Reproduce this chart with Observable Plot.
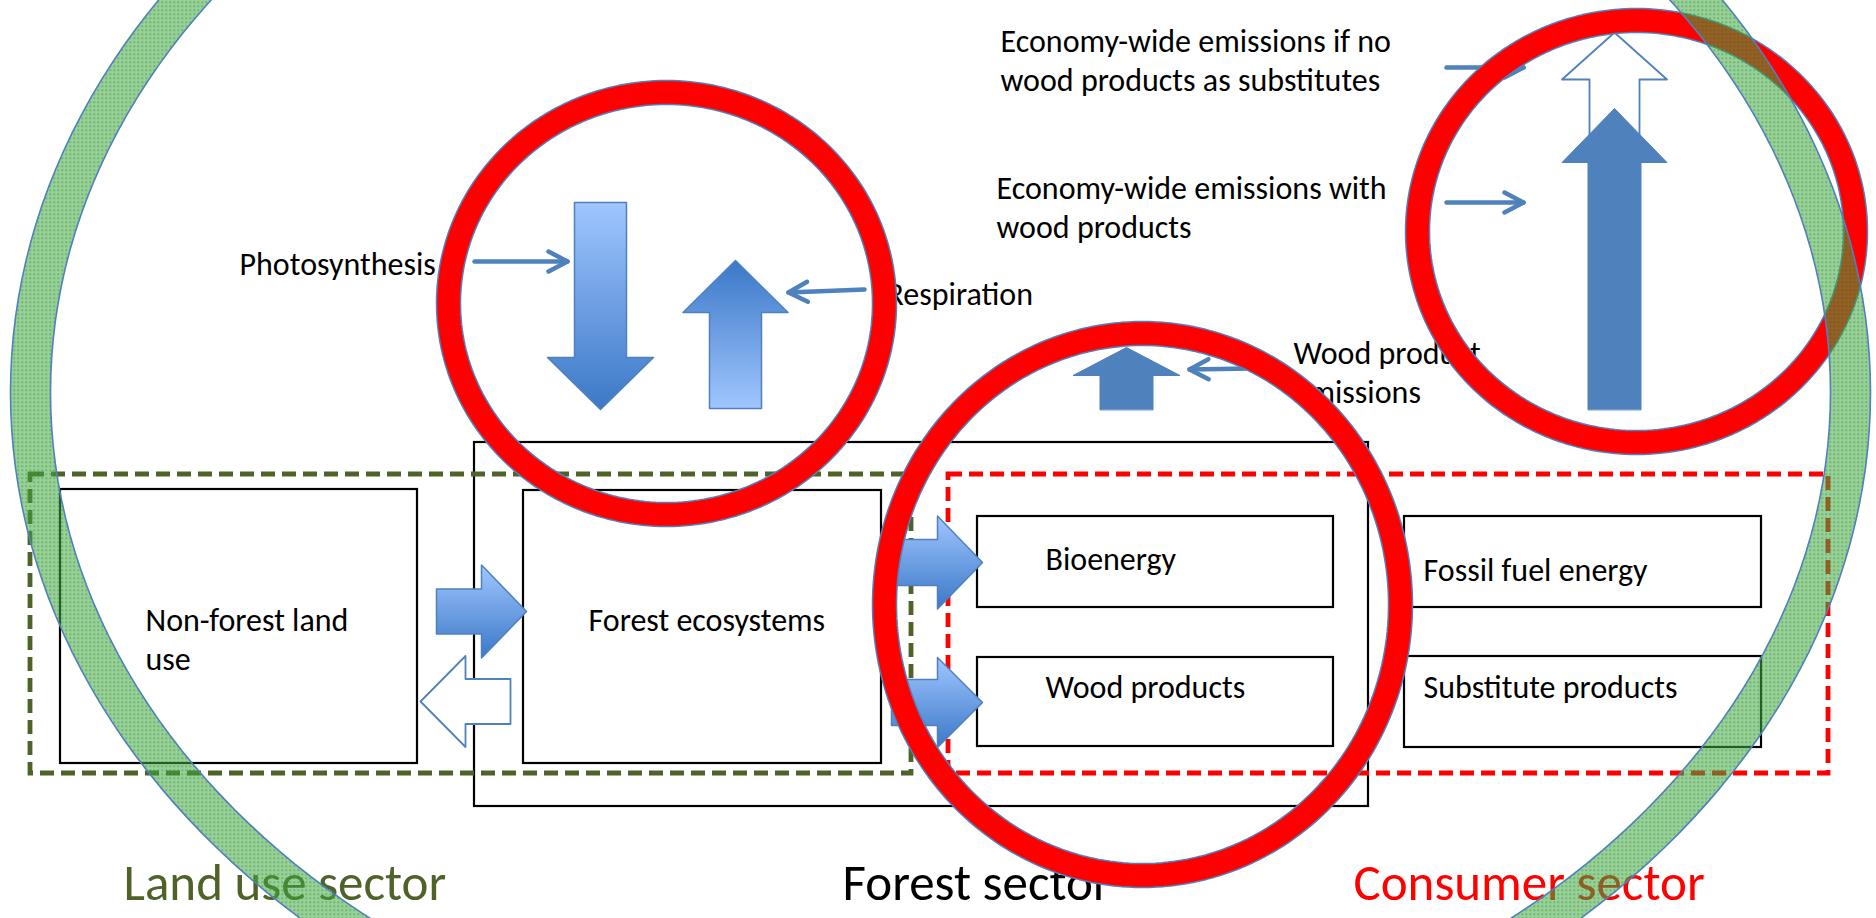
<!DOCTYPE html>
<html>
<head>
<meta charset="utf-8">
<script src="https://cdn.jsdelivr.net/npm/d3@7"></script>
<script src="https://cdn.jsdelivr.net/npm/@observablehq/plot@0.6"></script>
<style>
  html, body { margin: 0; padding: 0; background: #fff; overflow: hidden; }
  #chart { width: 1876px; height: 918px; overflow: hidden; }
</style>
</head>
<body>
<div id="chart"></div>
<script>
// ---------------- DATA (diagram units = pixels of the 1876x918 canvas) ----------------
const W = 1876, H = 918;

// Plain boxes (sector components)
const boxNames = ["Non-forest land use", "Forest ecosystems", "Bioenergy", "Wood products", "Fossil fuel energy", "Substitute products"];
const boxX1 = [60, 523, 977, 977, 1404, 1404];
const boxX2 = [417, 881, 1333, 1333, 1761, 1761];
const boxY1 = [489, 490, 516, 657, 516, 656];
const boxY2 = [763, 763, 607, 746, 607, 747];

// Forest sector outer box
const forestBox = {x1: 474, y1: 442, x2: 1368, y2: 806};

// Dashed sector boxes
const sectorNames = ["Land use sector", "Consumer sector"];
const sectorX1 = [30, 948];
const sectorX2 = [911, 1828];
const sectorY1 = [474, 474];
const sectorY2 = [773, 773];
const sectorColors = ["#4f6228", "#ff0000"];

// Labels
const labelTexts = [
  "Photosynthesis", "Respiration",
  "Economy-wide emissions if no\nwood products as substitutes",
  "Economy-wide emissions with\nwood products",
  "Wood product\nemissions",
  "Non-forest land\nuse", "Forest ecosystems",
  "Bioenergy", "Wood products", "Fossil fuel energy", "Substitute products"
];
const labelX = [239, 886, 1000, 996, 1293, 145, 588, 1045, 1045, 1423, 1423];
const labelY = [262, 292, 58.5, 205.5, 370.5, 637.5, 618, 557, 685, 568, 685];

// Sector titles
const sectorTitles = ["Land use sector", "Forest sector", "Consumer sector"];
const sectorTitleX = [123, 842, 1353];
const sectorTitleColors = ["#4f6228", "#000000", "#ff0000"];

// Block arrows: direction, cross-axis centre, tail, tip, shaft width, head width, head length
const arrowIds   = ["ifNo", "photosynthesis", "respiration", "toForest", "toNonForest", "toBioenergy", "toWoodProducts", "woodEmissions", "withWood"];
const arrowDir   = ["up", "down", "up", "right", "left", "right", "right", "up", "up"];
const arrowC     = [1614, 600, 735, 611, 701, 562, 702, 1126, 1614];
const arrowTail  = [250, 202, 408, 436, 510, 891, 891, 409, 409];
const arrowTip   = [32, 409, 260, 526, 420, 982, 982, 347, 108];
const arrowShaft = [50, 52, 52, 45, 45, 46, 46, 53, 53];
const arrowHead  = [105, 106, 105, 93, 91, 93, 90, 107, 105];
const arrowHL    = [47, 52, 52, 45, 45, 45, 45, 28, 54];
const arrowStyle = ["outline", "lightTop", "darkTop", "lightTop", "outline", "lightTop", "lightTop", "solid", "solid"];

// Thin pointer arrows (from label to block arrow)
const pointerX1 = [474, 864, 1250, 1446, 1446];
const pointerY1 = [261, 289, 368, 67, 202];
const pointerX2 = [567, 788, 1189, 1523, 1523];
const pointerY2 = [261, 292, 369, 67, 202];

// Red highlight rings (centre-line ellipses)
const ringCX = [666, 1142, 1636];
const ringCY = [303, 604, 231];
const ringRX = [218, 258, 219];
const ringRY = [211, 271, 211];

// Large green band ellipse (centre line)
const band = {cx: 940, cy: 392, rx: 910, ry: 705, w: 40};

// ---------------- helpers ----------------
const BLUE = "#4f81bd";
const FONT = "'Liberation Sans Narrow', 'Arial Narrow', Carlito, Calibri, 'Open Sans', sans-serif";

const boxes = boxNames.map((name, i) => ({name, x1: boxX1[i], x2: boxX2[i], y1: boxY1[i], y2: boxY2[i]}));
const sectors = sectorNames.map((name, i) => ({name, x1: sectorX1[i], x2: sectorX2[i], y1: sectorY1[i], y2: sectorY2[i], color: sectorColors[i]}));
const labels = labelTexts.map((text, i) => ({text, x: labelX[i], y: labelY[i]}));
const titles = sectorTitles.map((text, i) => ({text, x: sectorTitleX[i], color: sectorTitleColors[i]}));

function arrowPolygon(i) {
  const dir = arrowDir[i];
  const s = (dir === "down" || dir === "right") ? 1 : -1;
  const tail = arrowTail[i], tip = arrowTip[i], c = arrowC[i];
  const base = tip - s * arrowHL[i];
  const sw = arrowShaft[i] / 2, hw = arrowHead[i] / 2;
  const pts = [[tail, -sw], [base, -sw], [base, -hw], [tip, 0], [base, hw], [base, sw], [tail, sw]];
  const vertical = dir === "up" || dir === "down";
  return pts.map(([a, b]) => vertical
    ? {id: arrowIds[i], x: c + b, y: a}
    : {id: arrowIds[i], x: a, y: c + b});
}
const arrowsBy = style => arrowIds.flatMap((id, i) => arrowStyle[i] === style ? arrowPolygon(i) : []);

// pointer segments: shaft + two chevron wings
const pointerSegs = pointerX1.flatMap((x1, i) => {
  const y1 = pointerY1[i], x2 = pointerX2[i], y2 = pointerY2[i];
  const L = Math.hypot(x2 - x1, y2 - y1), ux = (x2 - x1) / L, uy = (y2 - y1) / L;
  const back = 19, half = 10;
  const bx = x2 - ux * back, by = y2 - uy * back;
  return [
    {id: `p${i}s`, x: x1, y: y1}, {id: `p${i}s`, x: x2, y: y2},
    {id: `p${i}h`, x: bx - uy * half, y: by + ux * half}, {id: `p${i}h`, x: x2, y: y2}, {id: `p${i}h`, x: bx + uy * half, y: by - ux * half}
  ];
});

function ellipse(id, cx, cy, rx, ry) {
  return d3.range(0, 361, 1.5).map(t => ({id, x: cx + rx * Math.cos(t * Math.PI / 180), y: cy + ry * Math.sin(t * Math.PI / 180)}));
}
const rings = ringCX.flatMap((cx, i) => ellipse(`r${i}`, cx, ringCY[i], ringRX[i], ringRY[i]));
const bandCenter = ellipse("band", band.cx, band.cy, band.rx, band.ry);
const bandEdges = [
  ...ellipse("outer", band.cx, band.cy, band.rx + band.w / 2, band.ry + band.w / 2),
  ...ellipse("inner", band.cx, band.cy, band.rx - band.w / 2, band.ry - band.w / 2)
];

// defs (gradients + dotted green pattern)
function defsMark() {
  const ns = "http://www.w3.org/2000/svg";
  const defs = document.createElementNS(ns, "defs");
  defs.innerHTML = `
    <linearGradient id="gLightTop" x1="0" y1="0" x2="0" y2="1">
      <stop offset="0" stop-color="#a0c6ff"/><stop offset="1" stop-color="#3b78c7"/>
    </linearGradient>
    <linearGradient id="gDarkTop" x1="0" y1="0" x2="0" y2="1">
      <stop offset="0" stop-color="#3b78c7"/><stop offset="1" stop-color="#a0c6ff"/>
    </linearGradient>
    <pattern id="greenDots" width="4" height="4" patternUnits="userSpaceOnUse">
      <rect width="4" height="4" fill="#43ab43" fill-opacity="0.55"/>
      <rect x="1" y="1" width="1.4" height="1.4" fill="#176b17" fill-opacity="0.6"/>
    </pattern>`;
  return defs;
}

const chart = Plot.plot({
  width: W, height: H,
  margin: 0,
  x: {domain: [0, W], range: [0, W], axis: null},
  y: {domain: [0, H], range: [0, H], axis: null},
  style: {background: "#fff", overflow: "hidden"},
  marks: [
    defsMark,
    // boxes
    Plot.rect([forestBox], {x1: "x1", x2: "x2", y1: "y1", y2: "y2", fill: "none", stroke: "#000", strokeWidth: 2.2}),
    Plot.rect(sectors, {x1: "x1", x2: "x2", y1: "y1", y2: "y2", fill: "none", stroke: d => d.color, strokeWidth: 4.8, strokeDasharray: "14,7"}),
    Plot.rect(boxes, {x1: "x1", x2: "x2", y1: "y1", y2: "y2", fill: "none", stroke: "#000", strokeWidth: 2.2}),
    // labels
    Plot.text(labels, {x: "x", y: "y", text: "text", textAnchor: "start", lineAnchor: "middle", lineHeight: 1.22, fontSize: 32, fontFamily: FONT, fill: "#000"}),
    Plot.text(titles, {x: "x", y: 883, text: "text", textAnchor: "start", lineAnchor: "middle", fontSize: 51, fontFamily: FONT, fill: d => d.color}),
    // pointers
    Plot.line(pointerSegs, {x: "x", y: "y", z: "id", stroke: BLUE, strokeWidth: 4.5, strokeLinecap: "round", strokeLinejoin: "round"}),
    // block arrows
    Plot.line(arrowsBy("outline"), {x: "x", y: "y", z: "id", curve: "linear-closed", fill: "#fff", stroke: BLUE, strokeWidth: 1.8}),
    Plot.line(arrowsBy("lightTop"), {x: "x", y: "y", z: "id", curve: "linear-closed", fill: "url(#gLightTop)", stroke: BLUE, strokeWidth: 1.5}),
    Plot.line(arrowsBy("darkTop"), {x: "x", y: "y", z: "id", curve: "linear-closed", fill: "url(#gDarkTop)", stroke: BLUE, strokeWidth: 1.5}),
    Plot.line(arrowsBy("solid"), {x: "x", y: "y", z: "id", curve: "linear-closed", fill: BLUE, stroke: BLUE, strokeWidth: 1}),
    // red rings with thin blue edges
    Plot.line(rings, {x: "x", y: "y", z: "id", stroke: BLUE, strokeWidth: 25.5}),
    Plot.line(rings, {x: "x", y: "y", z: "id", stroke: "#ff0000", strokeWidth: 22.5}),
    // green dotted band on top (semi-transparent)
    Plot.line(bandCenter, {x: "x", y: "y", z: "id", stroke: "url(#greenDots)", strokeWidth: band.w}),
    Plot.line(bandEdges, {x: "x", y: "y", z: "id", stroke: BLUE, strokeWidth: 1.6})
  ]
});
document.getElementById("chart").append(chart);
</script>
</body>
</html>
